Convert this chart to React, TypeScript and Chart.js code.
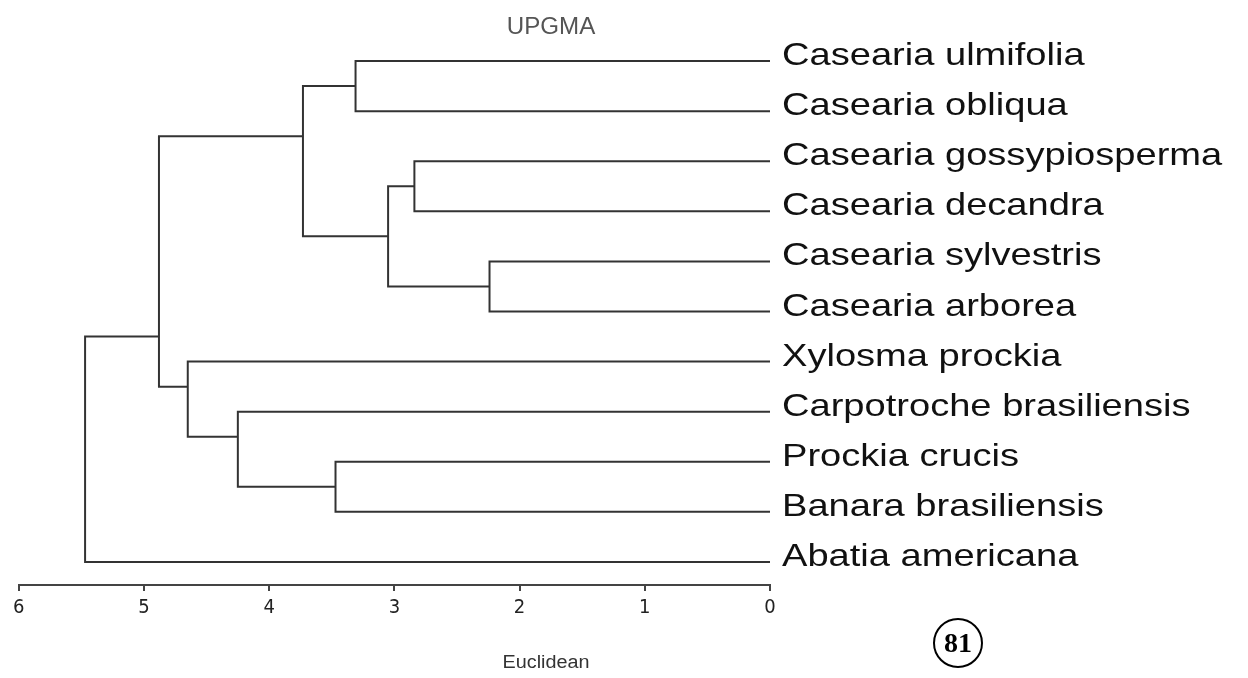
import { useEffect, useRef } from 'react';
import { Chart, registerables } from 'chart.js';

Chart.register(...registerables);

// Leaves (top to bottom)
const leafNames = [
  'Casearia ulmifolia',
  'Casearia obliqua',
  'Casearia gossypiosperma',
  'Casearia decandra',
  'Casearia sylvestris',
  'Casearia arborea',
  'Xylosma prockia',
  'Carpotroche brasiliensis',
  'Prockia crucis',
  'Banara brasiliensis',
  'Abatia americana',
];

// Merges: node id = 11 + index
const mergeLeft = [0, 2, 4, 12, 11, 8, 7, 6, 15, 19];
const mergeRight = [1, 3, 5, 13, 14, 9, 16, 17, 18, 10];
const mergeHeight = [3.31, 2.84, 2.24, 3.05, 3.73, 3.47, 4.25, 4.65, 4.88, 5.47];
// row where each merged node attaches to its parent (leaf index units)
const nodeRow = [0.5, 2.5, 4.5, 3.5, 1.5, 8.5, 7.5, 6.5, 5.5, 7.75];

const axisTicks = [6, 5, 4, 3, 2, 1, 0];
const titleText = 'UPGMA';
const axisTitle = 'Euclidean';
const pageNumber = '81';

const LINE = '#333333';
const nLeaves = leafNames.length;

function pos(id: number) {
  if (id < nLeaves) return { h: 0, y: id };
  return { h: mergeHeight[id - nLeaves], y: nodeRow[id - nLeaves] };
}

const textPlugin = {
  id: 'dendroText',
  afterDraw(chart: any) {
    const ctx = chart.ctx as CanvasRenderingContext2D;
    const yScale = chart.scales.y;
    const area = chart.chartArea;
    ctx.save();
    // leaf labels
    ctx.fillStyle = '#111';
    ctx.font = '32px "Liberation Sans", Arial, sans-serif';
    ctx.textAlign = 'left';
    ctx.textBaseline = 'alphabetic';
    leafNames.forEach((name, i) => {
      const y = yScale.getPixelForValue(i);
      ctx.save();
      ctx.translate(area.right + 12, y + 4);
      ctx.scale(1.19, 1);
      ctx.fillText(name, 0, 0);
      ctx.restore();
    });
    // title
    ctx.fillStyle = '#555';
    ctx.font = '23px "Liberation Sans", Arial, sans-serif';
    ctx.textAlign = 'center';
    ctx.save();
    ctx.translate(543, 26);
    ctx.scale(1.05, 1);
    ctx.fillText(titleText, 0, 0);
    ctx.restore();
    // axis title
    ctx.fillStyle = '#333';
    ctx.font = '18px "Liberation Sans", Arial, sans-serif';
    ctx.save();
    ctx.translate(538, 660);
    ctx.scale(1.1, 1);
    ctx.fillText(axisTitle, 0, 0);
    ctx.restore();
    // circled page number
    ctx.strokeStyle = '#000';
    ctx.lineWidth = 2;
    ctx.beginPath();
    ctx.arc(950, 635, 24, 0, Math.PI * 2);
    ctx.stroke();
    ctx.fillStyle = '#000';
    ctx.font = 'bold 28px "Liberation Serif", "Times New Roman", serif';
    ctx.textBaseline = 'middle';
    ctx.fillText(pageNumber, 950, 637);
    ctx.restore();
  },
};

export default function App() {
  const ref = useRef<HTMLCanvasElement>(null);
  useEffect(() => {
    if (!ref.current) return;
    const datasets = mergeHeight.map((h, i) => {
      const a = pos(mergeLeft[i]);
      const b = pos(mergeRight[i]);
      return {
        data: [
          { x: a.h, y: a.y },
          { x: h, y: a.y },
          { x: h, y: b.y },
          { x: b.h, y: b.y },
        ],
        borderColor: LINE,
        backgroundColor: LINE,
        borderWidth: 2,
        pointRadius: 0,
        pointHoverRadius: 0,
        showLine: true,
        fill: false,
        tension: 0,
        borderJoinStyle: 'miter' as const,
      };
    });
    const chart = new Chart(ref.current, {
      type: 'scatter',
      data: { datasets },
      options: {
        animation: false,
        responsive: true,
        maintainAspectRatio: false,
        layout: { padding: { top: 30, left: 7, right: 470, bottom: 0 } },
        plugins: { legend: { display: false }, tooltip: { enabled: false } },
        events: [],
        scales: {
          x: {
            type: 'linear',
            reverse: true,
            min: 0,
            max: 6,
            position: 'bottom',
            afterBuildTicks: (s: any) => {
              s.ticks = axisTicks.map((v) => ({ value: v }));
            },
            afterFit: (s: any) => {
              s.height = 85;
            },
            ticks: {
              color: '#222',
              padding: 5,
              maxRotation: 0,
              font: { family: '"Liberation Sans Narrow", "DejaVu Sans Condensed", sans-serif', size: 20 },
              callback: (v: any) => String(v),
            },
            grid: { drawOnChartArea: false, drawTicks: true, tickLength: 6, color: '#444', lineWidth: 2 },
            border: { display: true, color: '#444', width: 2 },
          },
          y: {
            type: 'linear',
            reverse: true,
            min: -0.46,
            max: 10.46,
            display: false,
          },
        },
      },
      plugins: [textPlugin],
    });
    return () => chart.destroy();
  }, []);
  return (
    <div style={{ width: 1232, height: 662, position: 'relative' }}>
      <canvas ref={ref} />
    </div>
  );
}
